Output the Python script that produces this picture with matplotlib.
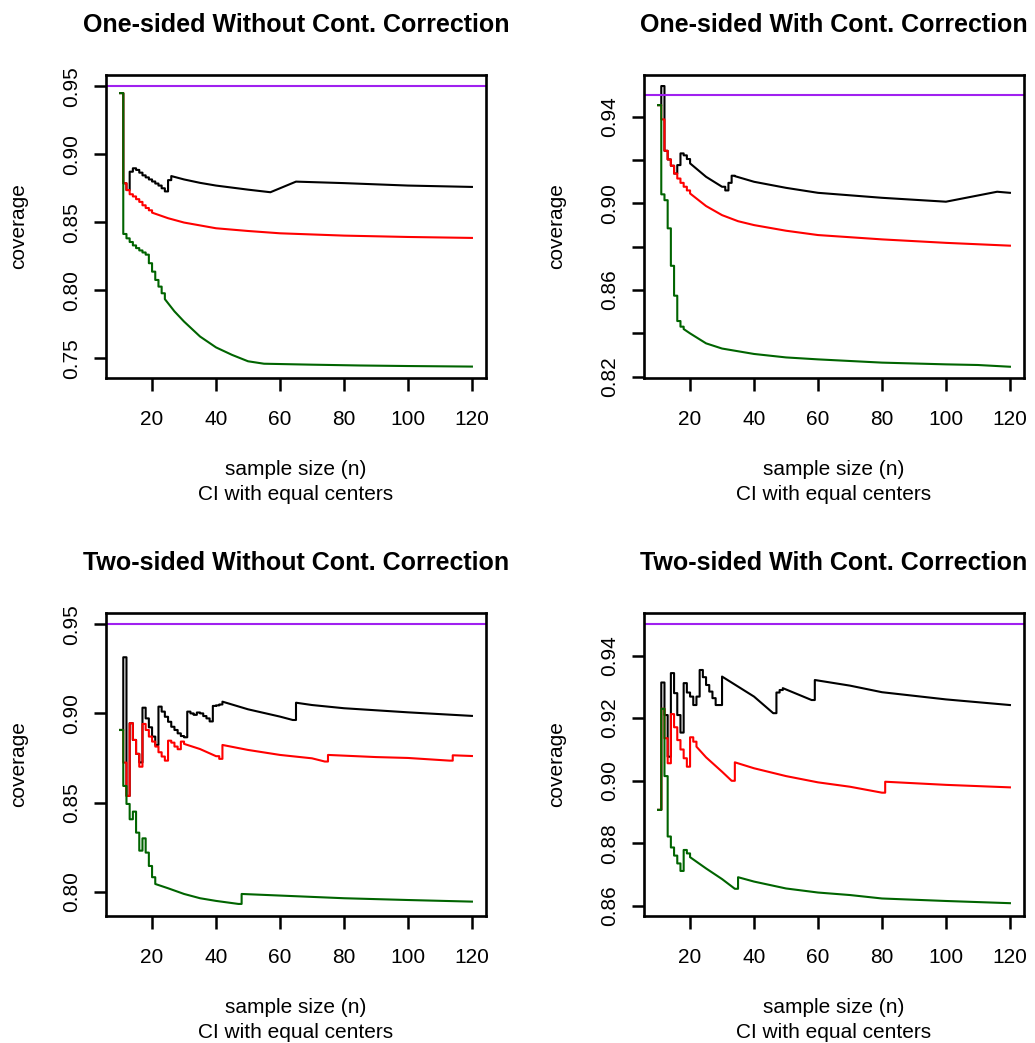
import matplotlib
matplotlib.use("Agg")
import matplotlib.pyplot as plt

plt.rcParams['font.family'] = ['Liberation Sans', 'DejaVu Sans']

# coverage by sample size
# --- one-sided, without continuity correction
os_nc_black_n = [10, 11, 12, 13, 14, 15, 16, 17, 18, 19, 20, 21, 22, 23, 24, 25, 26, 30, 35, 40, 45, 50, 57, 65, 80, 100, 120]
os_nc_black = [0.945, 0.8787, 0.8737, 0.8872, 0.8897, 0.8885, 0.8865, 0.8845, 0.8830, 0.8815, 0.8800, 0.8785,
               0.8770, 0.8750, 0.8727, 0.8810, 0.8840, 0.8815, 0.8790, 0.8770, 0.8755, 0.8740, 0.8721, 0.8799,
               0.8788, 0.8770, 0.8760]
os_nc_red_n = [10, 11, 12, 13, 14, 15, 16, 17, 18, 19, 20, 25, 30, 40, 50, 60, 80, 100, 120]
os_nc_red = [0.945, 0.8787, 0.8737, 0.8706, 0.8690, 0.8670, 0.8650, 0.8625, 0.8605, 0.8588, 0.8571, 0.8530,
             0.8498, 0.8456, 0.8436, 0.8419, 0.8402, 0.8392, 0.8385]
os_nc_green_n = [10, 11, 12, 13, 14, 15, 16, 17, 18, 19, 20, 21, 22, 23, 24, 27, 30, 35, 40, 45, 50, 55, 70, 85, 100, 120]
os_nc_green = [0.945, 0.8414, 0.8382, 0.8355, 0.8330, 0.8310, 0.8293, 0.8278, 0.8262, 0.8199, 0.8137, 0.8076,
               0.8027, 0.7978, 0.7935, 0.7845, 0.7770, 0.7660, 0.7580, 0.7525, 0.7478, 0.7460, 0.7453, 0.7447,
               0.7443, 0.7439]

# --- one-sided, with continuity correction
os_cc_black_n = [10, 11, 12, 13, 14, 15, 16, 17, 18, 19, 20, 25, 30, 31, 32, 33, 34, 40, 50, 60, 80, 100, 116, 120]
os_cc_black = [0.9454, 0.9542, 0.9243, 0.9203, 0.9174, 0.9138, 0.9177, 0.9231, 0.9222, 0.9205, 0.9185, 0.9123,
               0.9077, 0.9060, 0.9095, 0.9128, 0.9126, 0.9100, 0.9072, 0.9049, 0.9026, 0.9008, 0.9054, 0.9049]
os_cc_red_n = [10, 11, 12, 13, 14, 15, 16, 17, 18, 19, 20, 25, 30, 35, 40, 50, 60, 80, 100, 120]
os_cc_red = [0.9454, 0.9388, 0.9243, 0.9203, 0.9174, 0.9138, 0.9115, 0.9095, 0.9077, 0.9060, 0.9046, 0.8988,
             0.8946, 0.8918, 0.8900, 0.8874, 0.8854, 0.8834, 0.8818, 0.8805]
os_cc_green_n = [10, 11, 12, 13, 14, 15, 16, 17, 18, 20, 25, 30, 40, 50, 60, 80, 100, 110, 120]
os_cc_green = [0.9454, 0.9042, 0.9015, 0.8885, 0.8712, 0.8574, 0.8457, 0.8431, 0.8420, 0.8400, 0.8354, 0.8330,
               0.8305, 0.8289, 0.8280, 0.8265, 0.8257, 0.8254, 0.8246]

# --- two-sided, without continuity correction
ts_nc_black_n = [10, 11, 12, 13, 14, 15, 16, 17, 18, 19, 20, 21, 22, 23, 24, 25, 26, 27, 28, 29, 30, 31, 32, 33,
                 34, 35, 36, 37, 38, 39, 40, 41, 42, 50, 60, 64, 65, 70, 80, 100, 120]
ts_nc_black = [0.8907, 0.9315, 0.8537, 0.8945, 0.8851, 0.8773, 0.8725, 0.9032, 0.8972, 0.8922, 0.8870, 0.8823,
               0.9038, 0.9010, 0.8981, 0.8953, 0.8925, 0.8907, 0.8888, 0.8873, 0.8866, 0.9010, 0.9000, 0.8992,
               0.9005, 0.9000, 0.8985, 0.8972, 0.8955, 0.9042, 0.9045, 0.9050, 0.9066, 0.9023, 0.8982, 0.8963,
               0.9060, 0.9047, 0.9029, 0.9006, 0.8986]
ts_nc_red_n = [10, 11, 12, 13, 14, 15, 16, 17, 18, 19, 20, 21, 22, 23, 24, 25, 26, 27, 28, 29, 30, 35, 40, 41,
               42, 50, 60, 70, 74, 75, 90, 100, 113, 114, 120]
ts_nc_red = [0.8907, 0.8724, 0.8537, 0.8945, 0.8851, 0.8773, 0.8701, 0.8941, 0.8907, 0.8870, 0.8842, 0.8814,
             0.8782, 0.8758, 0.8735, 0.8847, 0.8836, 0.8814, 0.8799, 0.8842, 0.8829, 0.8800, 0.8760, 0.8745,
             0.8823, 0.8795, 0.8767, 0.8748, 0.8730, 0.8767, 0.8755, 0.8750, 0.8735, 0.8765, 0.8761]
ts_nc_green_n = [10, 11, 12, 13, 14, 15, 16, 17, 18, 19, 20, 21, 25, 30, 35, 40, 47, 48, 60, 80, 100, 120]
ts_nc_green = [0.8907, 0.8593, 0.8492, 0.8406, 0.8449, 0.8331, 0.8230, 0.8299, 0.8219, 0.8144, 0.8081, 0.8043,
               0.8019, 0.7987, 0.7963, 0.7948, 0.7931, 0.7987, 0.7978, 0.7963, 0.7953, 0.7944]

# --- two-sided, with continuity correction
ts_cc_black_n = [10, 11, 12, 13, 14, 15, 16, 17, 18, 19, 20, 21, 22, 23, 24, 25, 26, 27, 28, 29, 30, 35, 40, 46,
                 47, 48, 49, 58, 59, 70, 80, 100, 120]
ts_cc_black = [0.8907, 0.9314, 0.9210, 0.9077, 0.9344, 0.9280, 0.9210, 0.9154, 0.9312, 0.9282, 0.9269, 0.9242,
               0.9269, 0.9354, 0.9331, 0.9306, 0.9285, 0.9264, 0.9242, 0.9242, 0.9333, 0.9301, 0.9269, 0.9216,
               0.9282, 0.9290, 0.9296, 0.9258, 0.9322, 0.9304, 0.9283, 0.9260, 0.9242]
ts_cc_red_n = [10, 11, 12, 13, 14, 15, 16, 17, 18, 19, 20, 21, 22, 25, 30, 33, 34, 40, 50, 60, 70, 80, 81, 100, 120]
ts_cc_red = [0.8907, 0.9230, 0.9136, 0.9056, 0.9213, 0.9171, 0.9130, 0.9100, 0.9072, 0.9045, 0.9139, 0.9125,
             0.9109, 0.9075, 0.9029, 0.9000, 0.9059, 0.9040, 0.9015, 0.8995, 0.8981, 0.8962, 0.8997, 0.8987,
             0.8979]
ts_cc_green_n = [10, 11, 12, 13, 14, 15, 16, 17, 18, 19, 20, 25, 30, 34, 35, 40, 50, 60, 70, 80, 100, 120]
ts_cc_green = [0.8907, 0.9230, 0.9015, 0.8822, 0.8787, 0.8761, 0.8736, 0.8712, 0.8779, 0.8768, 0.8756, 0.8720,
               0.8686, 0.8655, 0.8692, 0.8678, 0.8656, 0.8643, 0.8635, 0.8624, 0.8616, 0.8609]

nominal = 0.95

titles = ["One-sided Without Cont. Correction", "One-sided With Cont. Correction",
          "Two-sided Without Cont. Correction", "Two-sided With Cont. Correction"]
ylims = [(0.7355, 0.9583), (0.8194, 0.9593), (0.7865, 0.9565), (0.8569, 0.9537)]
yticks = [[0.75, 0.80, 0.85, 0.90, 0.95],
          [0.82, 0.84, 0.86, 0.88, 0.90, 0.92, 0.94],
          [0.80, 0.85, 0.90, 0.95],
          [0.86, 0.88, 0.90, 0.92, 0.94]]
yticklabels = [["0.75", "0.80", "0.85", "0.90", "0.95"],
               ["0.82", "", "0.86", "", "0.90", "", "0.94"],
               ["0.80", "0.85", "0.90", "0.95"],
               ["0.86", "0.88", "0.90", "0.92", "0.94"]]
xticks = [20, 40, 60, 80, 100, 120]

panels = [
    [(os_nc_black_n, os_nc_black), (os_nc_red_n, os_nc_red), (os_nc_green_n, os_nc_green)],
    [(os_cc_black_n, os_cc_black), (os_cc_red_n, os_cc_red), (os_cc_green_n, os_cc_green)],
    [(ts_nc_black_n, ts_nc_black), (ts_nc_red_n, ts_nc_red), (ts_nc_green_n, ts_nc_green)],
    [(ts_cc_black_n, ts_cc_black), (ts_cc_red_n, ts_cc_red), (ts_cc_green_n, ts_cc_green)],
]
colors = ["black", "red", "darkgreen"]


def stairs(ns, vs):
    # R type="s": flat then vertical between consecutive n, straight line over gaps
    xs, ys = [ns[0]], [vs[0]]
    for i in range(1, len(ns)):
        if ns[i] - ns[i - 1] == 1:
            xs.append(ns[i])
            ys.append(vs[i - 1])
        xs.append(ns[i])
        ys.append(vs[i])
    return xs, ys


W, H = 1035, 1043
fig = plt.figure(figsize=(W / 100, H / 100), dpi=100)

# axes boxes in pixels: left, top
boxes = [(106, 75), (644, 75), (106, 612.7), (644, 612.7)]
bw, bh = 380, 303

for k in range(4):
    l, t = boxes[k]
    ax = fig.add_axes([l / W, 1 - (t + bh) / H, bw / W, bh / H])
    for (ns, vs), c in zip(panels[k], colors):
        xs, ys = stairs(ns, vs)
        ax.plot(xs, ys, color=c, lw=1.5)
    ax.axhline(nominal, color="#A020F0", lw=1.5)

    ax.set_xlim(5.6, 124.4)
    ax.set_ylim(*ylims[k])
    ax.set_xticks(xticks)
    ax.set_yticks(yticks[k], yticklabels[k])
    ax.tick_params(axis="both", direction="out", length=9, width=1.8, labelsize=15, color="black")
    ax.tick_params(axis="x", pad=14)
    ax.tick_params(axis="y", pad=12)
    for lab in ax.get_yticklabels():
        lab.set_fontsize(15)
        lab.set_rotation(90)
        lab.set_rotation_mode("anchor")
        lab.set_horizontalalignment("center")
        lab.set_verticalalignment("baseline")
    for sp in ax.spines.values():
        sp.set_linewidth(1.9)

    ax.annotate(titles[k], xy=(0.5, 1), xycoords="axes fraction", xytext=(0, 31),
                textcoords="offset points", ha="center", va="baseline", fontsize=18, fontweight="bold")
    ax.annotate("sample size (n)", xy=(0.5, 0), xycoords="axes fraction", xytext=(0, -70),
                textcoords="offset points", ha="center", va="baseline", fontsize=15)
    ax.annotate("CI with equal centers", xy=(0.5, 0), xycoords="axes fraction", xytext=(0, -88),
                textcoords="offset points", ha="center", va="baseline", fontsize=15)
    ax.annotate("coverage", xy=(0, 0.5), xycoords="axes fraction", xytext=(-59, 0),
                textcoords="offset points", ha="center", va="baseline", rotation=90,
                rotation_mode="anchor", fontsize=15)

fig.savefig("out.png", dpi=100)
